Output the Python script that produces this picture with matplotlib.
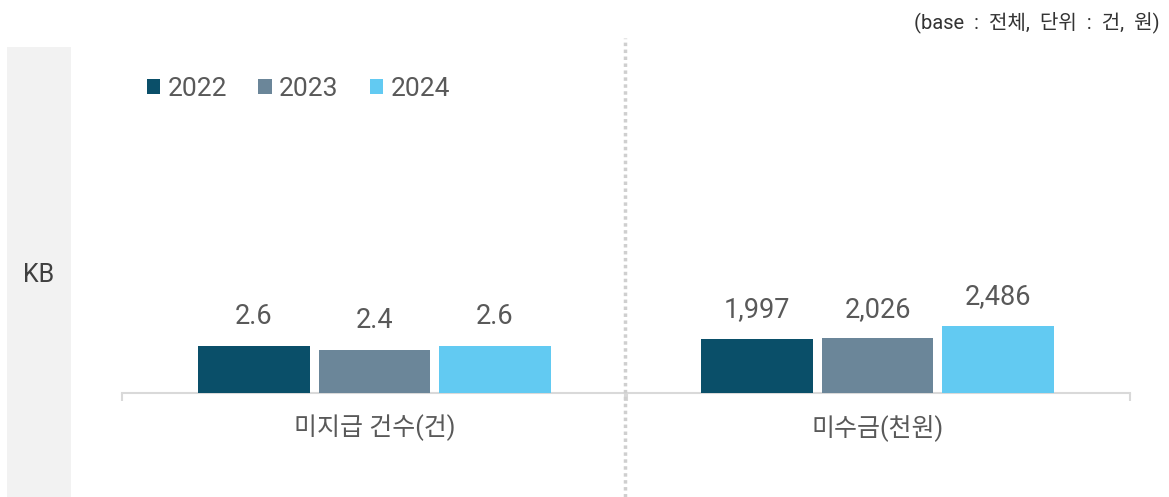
import matplotlib
matplotlib.use('Agg')
import matplotlib.pyplot as plt
from matplotlib.patches import Rectangle, Patch
from matplotlib.lines import Line2D

plt.rcParams['font.family'] = ['Roboto', 'Noto Sans CJK KR', 'DejaVu Sans']

# data
years = ['2022', '2023', '2024']
colors = ['#0a4f69', '#6b8699', '#62caf2']
categories = ['미지급 건수(건)', '미수금(천원)']
unpaid_count = [2.6, 2.4, 2.6]
receivable = [1997, 2026, 2486]
value_labels = [['2.6', '2.4', '2.6'], ['1,997', '2,026', '2,486']]
row_label = 'KB'
note = '(base  :  전체,  단위  :  건,  원)'

W, H = 1169, 497
fig = plt.figure(figsize=(W / 100, H / 100), dpi=100)

text_color = '#595959'

# gray side panel
fig.patches.append(Rectangle((7 / W, 0), 64 / W, 1 - 47 / H, transform=fig.transFigure,
                             facecolor='#f2f2f2', edgecolor='none', zorder=0))
fig.text(39 / W, 1 - 275 / H, row_label, ha='center', va='center', fontsize=18, color='#404040')

# dotted divider
fig.add_artist(Line2D([625 / W, 625 / W], [0, 1 - 38 / H], transform=fig.transFigure,
                      color='#cfcfcf', lw=2.5, linestyle=(0, (1, 1))))

fig.text(1160 / W, 1 - 22 / H, note, ha='right', va='center', fontsize=14.5, color='#333333')

base_y = 393
top_y = 47
xs = [-1, 0, 1]
half = 503 / 120 / 2
series = [unpaid_count, receivable]
ylims = [19.14, 12800]
lefts = [122, 625]

for i, (vals, cat) in enumerate(zip(series, categories)):
    ax = fig.add_axes([lefts[i] / W, (H - base_y) / H, 505 / W, (base_y - top_y) / H])
    ax.set_facecolor('none')
    ax.bar(xs, vals, width=111 / 120, color=colors, zorder=3)
    ax.set_xlim(-half, half)
    ax.set_ylim(0, ylims[i])
    for s in ['top', 'left', 'right']:
        ax.spines[s].set_visible(False)
    ax.spines['bottom'].set_color('#d9d9d9')
    ax.spines['bottom'].set_linewidth(1.5)
    ax.set_yticks([])
    ax.set_xticks([-half, half])
    ax.set_xticklabels(['', ''])
    ax.tick_params(axis='x', length=6, width=1.5, color='#d9d9d9', direction='out')
    for x, v, lab in zip(xs, vals, value_labels[i]):
        ax.annotate(lab, (x, v), xytext=(0, 21), textcoords='offset points',
                    ha='center', va='center', fontsize=19.5, color=text_color)
    ax.annotate(cat, (0, 0), xytext=(0, -25), textcoords='offset points',
                ha='center', va='center', fontsize=18, color=text_color, annotation_clip=False)

handles = [Patch(facecolor=c, edgecolor='none') for c in colors]
fig.legend(handles, years, loc='center left', bbox_to_anchor=(147 / W, 1 - 89 / H),
           ncol=3, frameon=False, fontsize=19, handlelength=0.5, handleheight=0.5,
           handletextpad=0.27, columnspacing=1.2, borderpad=0, borderaxespad=0,
           labelcolor=text_color)

fig.savefig('out.png', dpi=100, facecolor='white')
